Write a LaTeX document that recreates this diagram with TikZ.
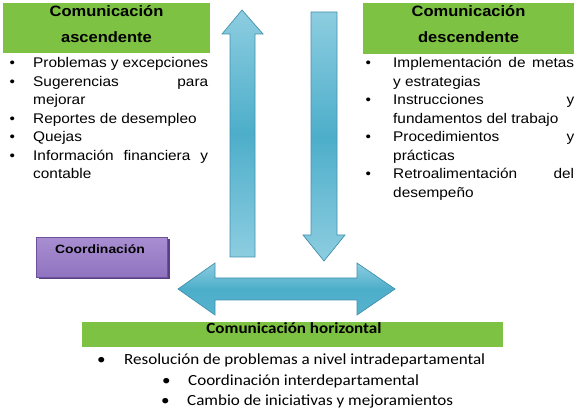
\documentclass[tikz,border=0pt]{standalone}
\usepackage{fontspec}
\setmainfont{Liberation Sans}
\newfontfamily\arialS[FakeStretch=1.1]{Liberation Sans}
\newfontfamily\arialC[FakeStretch=1.16]{Liberation Sans}
\newfontfamily\calibS[FakeStretch=1.1]{Carlito}
\definecolor{hdrgreen}{HTML}{7DC242}
\definecolor{arrlight}{HTML}{8DCDE0}
\definecolor{arrdark}{HTML}{4DAECA}
\definecolor{arredge}{HTML}{4291AE}
\definecolor{purtop}{HTML}{A88ED1}
\definecolor{purbot}{HTML}{9073C0}
\definecolor{puredge}{HTML}{6E519B}
\definecolor{purshadow}{HTML}{5B3F85}
\newcommand\bulx[1]{\llap{\makebox[#1][l]{•}}}
\tikzset{
  hdrbox/.style={fill=hdrgreen, draw=none, inner sep=0pt},
  hdrtext/.style={font=\arialS\bfseries\fontsize{15}{26}\selectfont, inner sep=0pt, align=center, anchor=base},
  lline/.style={font=\arialS\fontsize{14}{18.5}\selectfont, inner sep=0pt, anchor=base west},
  lbul/.style={lline, label={[font=\arialS\fontsize{14}{18.5}\selectfont, inner sep=0pt, anchor=base west]base west:\bulx{23.5pt}}},
  bottext/.style={font=\calibS\fontsize{15.5}{20}\selectfont, inner sep=0pt, anchor=base west},
  blockarrow/.style={draw=arredge, line width=0.7pt, line join=miter},
}
\begin{document}
\begin{tikzpicture}[x=1pt, y=-1pt]
\useasboundingbox (0,0) rectangle (583,411);

% header boxes
\node[hdrbox, minimum width=207pt, minimum height=50pt, anchor=north west] (hl) at (3,3) {};
\node[hdrtext] (hlt) at (106.5,43) {Comunicación\\ascendente};
\node[hdrbox, minimum width=211pt, minimum height=51pt, anchor=north west] (hr) at (363,3) {};
\node[hdrtext] (hrt) at (468.5,43) {Comunicación\\descendente};

% left list
\node[lline] (l1) at (33,68)    {\bulx{23.5pt}\makebox[175pt][s]{Problemas y excepciones}};
\node[lline] (l2) at (33,86.5)  {\bulx{23.5pt}\makebox[175pt][s]{Sugerencias para}};
\node[lline] (l3) at (33,105)   {mejorar};
\node[lline] (l4) at (33,123.5) {\bulx{23.5pt}Reportes de desempleo};
\node[lline] (l5) at (33,142)   {\bulx{23.5pt}Quejas};
\node[lline] (l6) at (33,160.5) {\bulx{23.5pt}\makebox[175pt][s]{Información financiera y}};
\node[lline] (l7) at (33,179)   {contable};

% right list
\node[lline] (r1) at (393,68)    {\bulx{27.5pt}\makebox[181pt][s]{Implementación de metas}};
\node[lline] (r2) at (393,86.5)  {y estrategias};
\node[lline] (r3) at (393,105)   {\bulx{27.5pt}\makebox[181pt][s]{Instrucciones y}};
\node[lline] (r4) at (393,123.5) {fundamentos del trabajo};
\node[lline] (r5) at (393,142)   {\bulx{27.5pt}\makebox[181pt][s]{Procedimientos y}};
\node[lline] (r6) at (393,160.5) {prácticas};
\node[lline] (r7) at (393,179)   {\bulx{27.5pt}\makebox[181pt][s]{Retroalimentación del}};
\node[lline] (r8) at (393,197.5) {desempeño};

% up arrow
\path[blockarrow, top color=arrlight, bottom color=arrlight, middle color=arrdark]
  (242,10) -- (263,34) -- (255,34) -- (255,257) -- (230,257) -- (230,34) -- (222,34) -- cycle;
% down arrow
\path[blockarrow, top color=arrlight, bottom color=arrlight, middle color=arrdark]
  (311,12) -- (337,12) -- (337,235) -- (345,235) -- (324,261) -- (303,235) -- (311,235) -- cycle;
% horizontal double arrow
\path[blockarrow, top color=arrlight, bottom color=arrdark!85!arrlight, middle color=arrdark]
  (178,289) -- (215,263) -- (215,278) -- (357,278) -- (357,263) -- (395,289)
  -- (357,315) -- (357,300) -- (215,300) -- (215,315) -- cycle;

% coordination box
\fill[purshadow] (38.5,239.5) rectangle (169.5,279.5);
\node[draw=puredge, line width=0.6pt, top color=purtop, bottom color=purbot, minimum width=131pt, minimum height=40pt, inner sep=0pt, anchor=north west] (co) at (36,237) {};
\node[font=\arialC\bfseries\fontsize{12}{14}\selectfont, inner sep=0pt, anchor=base] (cot) at (100,254) {Coordinación};

% bottom header
\node[hdrbox, minimum width=421pt, minimum height=25pt, anchor=north west] (hb) at (82,322) {};
\node[font=\calibS\bfseries\fontsize{15.5}{18}\selectfont, inner sep=0pt, anchor=base] (hbt) at (294,334) {Comunicación horizontal};

% bottom list
\node[bottext] (b1) at (124,364) {\bulx{27pt}Resolución de problemas a nivel intradepartamental};
\node[bottext] (b2) at (188,385) {\bulx{26pt}Coordinación interdepartamental};
\node[bottext] (b3) at (187,405) {\bulx{26pt}Cambio de iniciativas y mejoramientos};
\end{tikzpicture}
\end{document}
